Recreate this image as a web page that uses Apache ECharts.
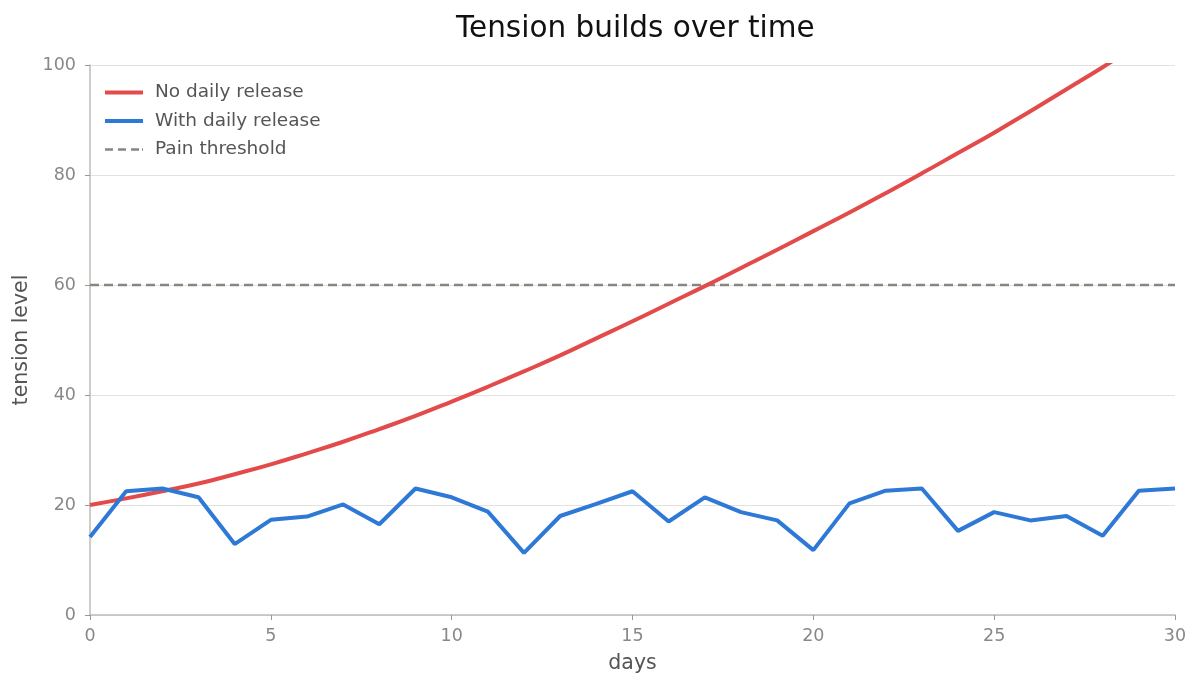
<!DOCTYPE html>
<html>
<head>
<meta charset="utf-8">
<title>Tension builds over time</title>
<script src="https://cdn.jsdelivr.net/npm/echarts@6/dist/echarts.min.js"></script>
<style>
    html, body { margin: 0; padding: 0; background: #fff; }
    #main { width: 1200px; height: 687px; }
</style>
</head>
<body>
<div id="main"></div>
<script>
'use strict';

// 数据
const days = [0, 1, 2, 3, 4, 5, 6, 7, 8, 9, 10, 11, 12, 13, 14, 15,
    16, 17, 18, 19, 20, 21, 22, 23, 24, 25, 26, 27, 28, 29, 30];
const noRelease = [20.0, 21.2, 22.5, 23.9, 25.6, 27.4, 29.4, 31.5, 33.8, 36.2, 38.8,
    41.5, 44.3, 47.2, 50.3, 53.4, 56.6, 59.8, 63.1, 66.4, 69.8,
    73.2, 76.7, 80.3, 84.0, 87.7, 91.6, 95.6, 99.6, 103.8, 108.0];
const withRelease = [14.2, 22.5, 23.0, 21.4, 12.9, 17.3, 17.9, 20.1, 16.5, 23.0, 21.4,
    18.8, 11.3, 18.0, 20.2, 22.5, 17.0, 21.4, 18.7, 17.2, 11.8,
    20.3, 22.6, 23.0, 15.3, 18.7, 17.2, 18.0, 14.4, 22.6, 23.0];
const threshold = 60;
const seriesNames = ['No daily release', 'With daily release', 'Pain threshold'];

function pairs(xs, ys) {
    let arr = [];
    for (let i = 0; i < xs.length; i++) {
        arr.push([xs[i], ys[i]]);
    }
    return arr;
}

let myChart = echarts.init(document.getElementById('main'));
let font = 'DejaVu Sans';
// 图例图标：实线 / 虚线
let solidIcon = 'path://M0,0H38V4H0Z';
let dashIcon = 'path://M0,0H8V2.5H0Z M13,0H21V2.5H13Z M26,0H34V2.5H26Z M37,0H38V2.5H37Z';

let option = {
    animation: false,
    textStyle: {fontFamily: font},
    title: {
        text: 'Tension builds over time',
        left: 451,
        top: 9,
        textStyle: {fontFamily: font, fontSize: 29.5, fontWeight: 'normal', color: '#111'}
    },
    legend: {
        orient: 'vertical',
        left: 100,
        top: 78,
        itemWidth: 38,
        itemHeight: 18,
        itemGap: 9.5,
        textStyle: {fontFamily: font, fontSize: 18.5, color: '#555', padding: [0, 0, 0, 7]},
        data: [
            {name: seriesNames[0], icon: solidIcon},
            {name: seriesNames[1], icon: solidIcon},
            {name: seriesNames[2], icon: dashIcon}
        ]
    },
    grid: {left: 90, right: 25, top: 65, bottom: 72},
    xAxis: {
        type: 'value',
        min: 0,
        max: 30,
        interval: 5,
        name: 'days',
        nameLocation: 'middle',
        nameGap: 38,
        nameTextStyle: {fontFamily: font, fontSize: 20.5, color: '#555'},
        axisLine: {lineStyle: {color: '#bdbdb5', width: 1.5}},
        axisTick: {show: true, length: 5, lineStyle: {color: '#999'}},
        axisLabel: {fontFamily: font, fontSize: 17.5, color: '#888', margin: 12},
        splitLine: {show: false}
    },
    yAxis: {
        type: 'value',
        min: 0,
        max: 100,
        interval: 20,
        name: 'tension level',
        nameLocation: 'middle',
        nameGap: 53,
        nameTextStyle: {fontFamily: font, fontSize: 20.5, color: '#555'},
        axisLine: {show: true, lineStyle: {color: '#bdbdb5', width: 1.5}},
        axisTick: {show: true, length: 5, lineStyle: {color: '#999'}},
        axisLabel: {fontFamily: font, fontSize: 17.5, color: '#888', margin: 14},
        splitLine: {show: true, lineStyle: {color: '#e2e2e0', width: 1.2}}
    },
    series: [
        {
            name: seriesNames[0],
            type: 'line',
            smooth: true,
            symbol: 'none',
            clip: true,
            lineStyle: {color: '#e34a4a', width: 4},
            itemStyle: {color: '#e34a4a'},
            data: pairs(days, noRelease),
            z: 3
        },
        {
            name: seriesNames[1],
            type: 'line',
            symbol: 'none',
            lineStyle: {color: '#2e79d6', width: 4},
            itemStyle: {color: '#2e79d6'},
            data: pairs(days, withRelease),
            z: 4
        },
        {
            name: seriesNames[2],
            type: 'line',
            symbol: 'none',
            lineStyle: {color: '#87877f', width: 2.5, type: [9, 5]},
            itemStyle: {color: '#87877f'},
            data: [[days[0], threshold], [days[days.length - 1], threshold]],
            z: 2
        }
    ]
};

myChart.setOption(option);
</script>
</body>
</html>
